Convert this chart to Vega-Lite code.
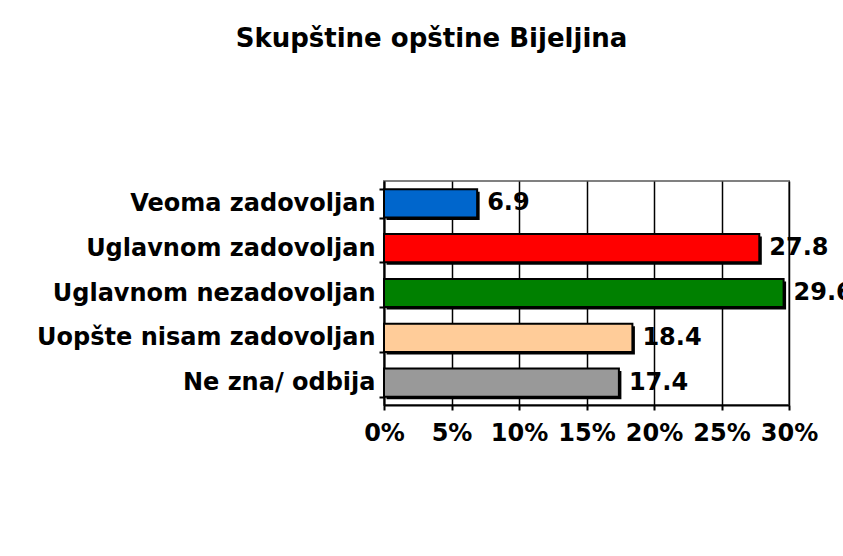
{
  "$schema": "https://vega.github.io/schema/vega-lite/v6.json",
  "width": 405,
  "height": 224,
  "autosize": {"type": "none"},
  "padding": {"left": 384, "top": 181, "right": 54, "bottom": 151},
  "background": "white",
  "title": {
    "text": "Skupštine opštine Bijeljina",
    "font": "DejaVu Sans",
    "fontSize": 26,
    "fontWeight": "bold",
    "color": "black",
    "anchor": "middle",
    "baseline": "alphabetic",
    "offset": 96,
    "dx": -155
  },
  "config": {
    "view": {"stroke": "#808080", "strokeWidth": 2},
    "font": "DejaVu Sans"
  },
  "data": {
    "values": [
      {"kategorija": "Veoma zadovoljan", "procenat": 6.9, "oznaka": "6.9"},
      {"kategorija": "Uglavnom zadovoljan", "procenat": 27.8, "oznaka": "27.8"},
      {"kategorija": "Uglavnom nezadovoljan", "procenat": 29.6, "oznaka": "29.6"},
      {"kategorija": "Uopšte nisam zadovoljan", "procenat": 18.4, "oznaka": "18.4"},
      {"kategorija": "Ne zna/ odbija", "procenat": 17.4, "oznaka": "17.4"}
    ]
  },
  "encoding": {
    "y": {
      "field": "kategorija",
      "type": "nominal",
      "sort": null,
      "scale": {"paddingInner": 0.37, "paddingOuter": 0.185},
      "axis": {
        "title": null,
        "domainColor": "black",
        "domainWidth": 2,
        "tickColor": "black",
        "tickWidth": 2,
        "tickSize": 5,
        "tickBand": "extent",
        "labelFont": "DejaVu Sans",
        "labelFontSize": 24,
        "labelFontWeight": "bold",
        "labelColor": "black",
        "labelPadding": 4,
        "labelLimit": 400
      }
    },
    "x": {
      "field": "procenat",
      "type": "quantitative",
      "scale": {"domain": [0, 30], "nice": false},
      "axis": {
        "title": null,
        "values": [0, 5, 10, 15, 20, 25, 30],
        "labelExpr": "datum.value + '%'",
        "grid": true,
        "gridColor": "black",
        "gridWidth": 1.5,
        "gridOpacity": 1,
        "domainColor": "black",
        "domainWidth": 2,
        "tickColor": "black",
        "tickWidth": 2,
        "tickSize": 5,
        "labelFont": "DejaVu Sans",
        "labelFontSize": 24,
        "labelFontWeight": "bold",
        "labelColor": "black",
        "labelPadding": 11,
        "labelFlush": false,
        "labelOverlap": false
      }
    }
  },
  "layer": [
    {
      "mark": {"type": "bar", "color": "black", "xOffset": 2.5, "yOffset": 2.5}
    },
    {
      "mark": {"type": "bar", "stroke": "black", "strokeWidth": 2},
      "encoding": {
        "color": {
          "field": "kategorija",
          "type": "nominal",
          "legend": null,
          "scale": {
            "domain": ["Veoma zadovoljan", "Uglavnom zadovoljan", "Uglavnom nezadovoljan", "Uopšte nisam zadovoljan", "Ne zna/ odbija"],
            "range": ["#0066CC", "#FF0000", "#008000", "#FFCC99", "#999999"]
          }
        }
      }
    },
    {
      "mark": {"type": "text", "align": "left", "baseline": "middle", "dx": 10, "font": "DejaVu Sans", "fontSize": 24, "fontWeight": "bold", "color": "black"},
      "encoding": {"text": {"field": "oznaka"}}
    }
  ]
}
